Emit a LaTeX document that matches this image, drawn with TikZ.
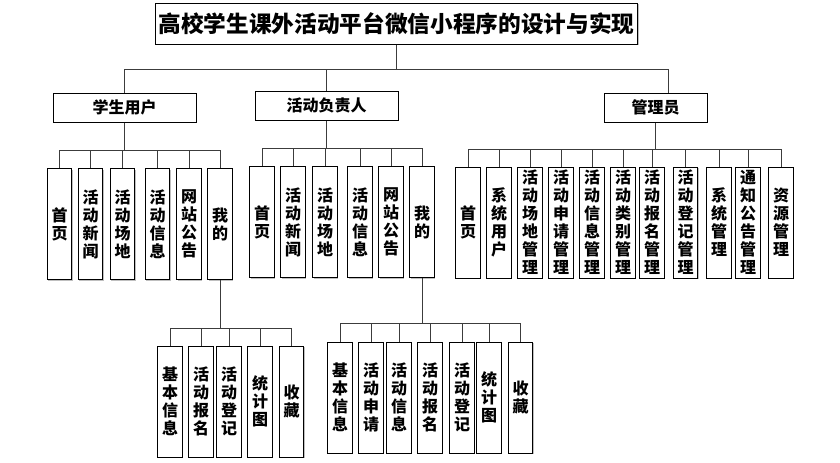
\documentclass[tikz,border=0pt]{standalone}
\usepackage{fontspec}
\setmainfont{Noto Sans CJK SC}
\usepackage{tikz}
\usetikzlibrary{shadows}
\usepackage{xcolor}
\definecolor{linkgray}{RGB}{60,60,60}
\tikzstyle{box}=[draw=black, line width=0.75pt, fill=white, inner sep=0pt, font=\bfseries, drop shadow={shadow xshift=0.9pt, shadow yshift=-0.9pt, fill=black!25, opacity=1}]
\tikzstyle{titlebox}=[box, minimum width=362pt, minimum height=30.75pt, font=\fontsize{17}{20}\bfseries\selectfont]
\tikzstyle{role}=[box, minimum height=21.75pt, font=\fontsize{12}{14}\bfseries\selectfont]
\tikzstyle{leaf}=[box, minimum width=18.4pt, minimum height=83.25pt, align=center, font=\fontsize{12}{13.5}\bfseries\selectfont]
\tikzstyle{link}=[draw=linkgray, line width=0.75pt]

\begin{document}
\begin{tikzpicture}[x=0.75pt, y=-0.75pt]
\useasboundingbox (0,0) rectangle (840,462);
\node[titlebox] (title) at (396.5,23.5) {高校学生课外活动平台微信小程序的设计与实现};
\node[role, minimum width=107.25pt] (stu) at (124.5,107.5) {学生用户};
\node[role, minimum width=107.25pt] (lead) at (326.5,105.5) {活动负责人};
\node[role, minimum width=77.25pt] (mgr) at (655.5,107.5) {管理员};
\coordinate (b0) at (0,69);
\coordinate (mgrin) at (668,93);
\draw[link] (title.south) -- (title.south |- b0);
\draw[link] (stu.north) -- (stu.north |- b0) -- (mgrin |- b0) -- (mgrin);
\draw[link] (lead.north) -- (lead.north |- b0);
% second level
\foreach \x/\t [count=\i] in {59.5/首\\页, 90.5/活\\动\\新\\闻, 122.5/活\\动\\场\\地, 157.5/活\\动\\信\\息, 189/网\\站\\公\\告, 220/我\\的}
  \node[leaf] (s\i) at (\x,224) {\t};
\foreach \x/\t [count=\i] in {262/首\\页, 293/活\\动\\新\\闻, 325/活\\动\\场\\地, 360/活\\动\\信\\息, 391/网\\站\\公\\告, 422/我\\的}
  \node[leaf] (l\i) at (\x,222) {\t};
\foreach \x/\t [count=\i] in {468/首\\页, 499/系\\统\\用\\户, 530/活\\动\\场\\地\\管\\理, 561/活\\动\\申\\请\\管\\理, 592/活\\动\\信\\息\\管\\理, 623/活\\动\\类\\别\\管\\理, 652/活\\动\\报\\名\\管\\理, 685.5/活\\动\\登\\记\\管\\理, 719/系\\统\\管\\理, 748/通\\知\\公\\告\\管\\理, 781/资\\源\\管\\理}
  \node[leaf] (m\i) at (\x,222.5) {\t};
% third level
\foreach \x/\t [count=\i] in {170/基\\本\\信\\息, 201/活\\动\\报\\名, 229/活\\动\\登\\记, 260/统\\计\\图, 291.5/收\\藏}
  \node[leaf] (sa\i) at (\x,401.5) {\t};
\foreach \x/\t [count=\i] in {340/基\\本\\信\\息, 371/活\\动\\申\\请, 399/活\\动\\信\\息, 430/活\\动\\报\\名, 462/活\\动\\登\\记, 489/统\\计\\图, 520.5/收\\藏}
  \node[leaf] (la\i) at (\x,397.5) {\t};
% buses
\foreach \p/\g/\n/\y in {stu/s/6/150, lead/l/6/148, mgr/m/11/149, s6/sa/5/328, l6/la/7/323} {
  \coordinate (bus) at (0,\y);
  \draw[link] (\p.south) -- (\p.south |- bus);
  \draw[link] (\g1.north |- bus) -- (\g\n.north |- bus);
  \foreach \i in {1,...,\n}
    \draw[link] (\g\i.north) -- (\g\i.north |- bus);
}
\end{tikzpicture}
\end{document}
